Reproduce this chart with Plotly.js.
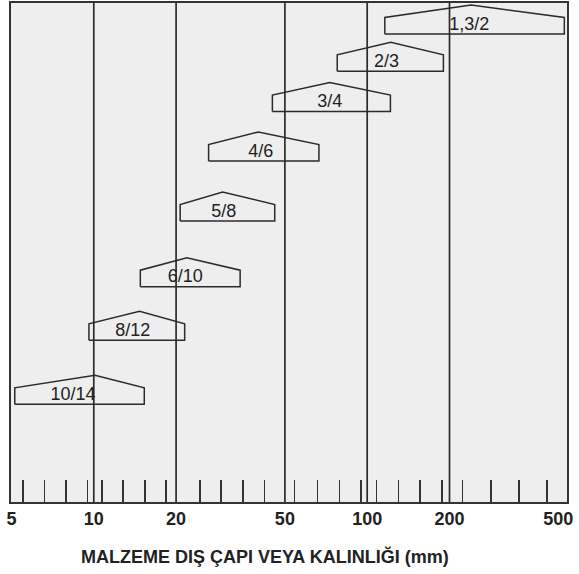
<!DOCTYPE html>
<html><head><meta charset="utf-8">
<script src="https://cdn.plot.ly/plotly-3.0.1.min.js"></script>
<style>html,body{margin:0;padding:0;background:#fff}#chart{width:579px;height:574px}</style>
</head><body><div id="chart"></div>
<script>
// Categories (top to bottom in the chart)
const labels   = ['1,3/2', '2/3', '3/4', '4/6', '5/8', '6/10', '8/12', '10/14'];
// Diameter / thickness ranges (mm)
const minDia   = [116, 77.7, 45, 26.3, 20.7, 14.8, 9.6, 5.14];
const maxDia   = [526, 190, 121.6, 66.6, 45.9, 34.3, 21.5, 15.3];
const optDia   = [240, 122, 73, 40, 29.6, 21.9, 14.7, 10.1];
const labelDia = [236, 117.6, 72.9, 40.8, 29.9, 21.6, 13.9, 8.4];
// vertical level of each bracket (arbitrary units)
const level    = [468, 430.7, 390.5, 341, 281, 215.3, 161.7, 97.7];
// axis
const tickVals  = [5, 10, 20, 50, 100, 200, 500];
const tickText  = ['5', '10', '20', '50', '100', '200', '500'];
const gridVals  = [10, 20, 50, 100, 200];
const minorVals = [5.5, 6.6, 7.9, 9.5, 10.7, 12.8, 15.4, 18.4, 24.4, 29.2, 35.1, 42.1,
                   54.3, 65.9, 79.3, 95.1, 108, 130, 156, 188, 223, 283, 359, 455];

const boxH = 16.5, roofH = 12.5, yTop = 499;
const lineCol = '#2b2b2b';
const fam = 'Liberation Sans, Arial, Helvetica, sans-serif';

const traces = [];
const gx = [], gy = [];
gridVals.forEach(v => { gx.push(v, v, null); gy.push(0, yTop, null); });
traces.push({x: gx, y: gy, mode: 'lines', line: {color: lineCol, width: 1.7},
             hoverinfo: 'skip', showlegend: false});

labels.forEach((lab, i) => {
  const b = level[i], e = b + boxH, p = b + boxH + roofH;
  traces.push({
    x: [minDia[i], minDia[i], optDia[i], maxDia[i], maxDia[i], minDia[i]],
    y: [b, e, p, e, b, b],
    mode: 'lines', line: {color: lineCol, width: 1.5},
    name: lab, hoverinfo: 'name', showlegend: false
  });
});

traces.push({
  x: labelDia, y: level.map(b => b + 9), text: labels, mode: 'text',
  textposition: 'middle center',
  textfont: {family: fam, size: 18, color: '#222'},
  hoverinfo: 'skip', showlegend: false
});

const layout = {
  width: 579, height: 574,
  margin: {l: 11, r: 12, t: 3, b: 72, pad: 0},
  paper_bgcolor: '#ffffff',
  plot_bgcolor: '#eeeeee',
  showlegend: false,
  xaxis: {
    type: 'log',
    range: [Math.log10(4.98), Math.log10(538)],
    tickmode: 'array', tickvals: tickVals, ticktext: tickText,
    ticks: '', showgrid: false, zeroline: false,
    showline: true, linecolor: '#333', linewidth: 1.7, mirror: true,
    tickfont: {family: fam, size: 18, weight: 'bold', color: '#222'},
    minor: {tickmode: 'array', tickvals: minorVals, ticks: 'inside', ticklen: 22,
            tickwidth: 1.6, tickcolor: '#333', showgrid: false},
    fixedrange: true
  },
  yaxis: {
    range: [0, yTop], showticklabels: false, ticks: '', showgrid: false, zeroline: false,
    showline: true, linecolor: '#333', linewidth: 1.7, mirror: true, fixedrange: true
  },
  annotations: [{
    text: 'MALZEME DIŞ ÇAPI VEYA KALINLIĞI (mm)',
    xref: 'paper', yref: 'paper', x: 0.457, y: -0.110,
    xanchor: 'center', yanchor: 'middle', showarrow: false,
    font: {family: fam, size: 18, weight: 'bold', color: '#222'}
  }]
};

Plotly.newPlot('chart', traces, layout, {staticPlot: true, displayModeBar: false});
</script>
</body></html>
